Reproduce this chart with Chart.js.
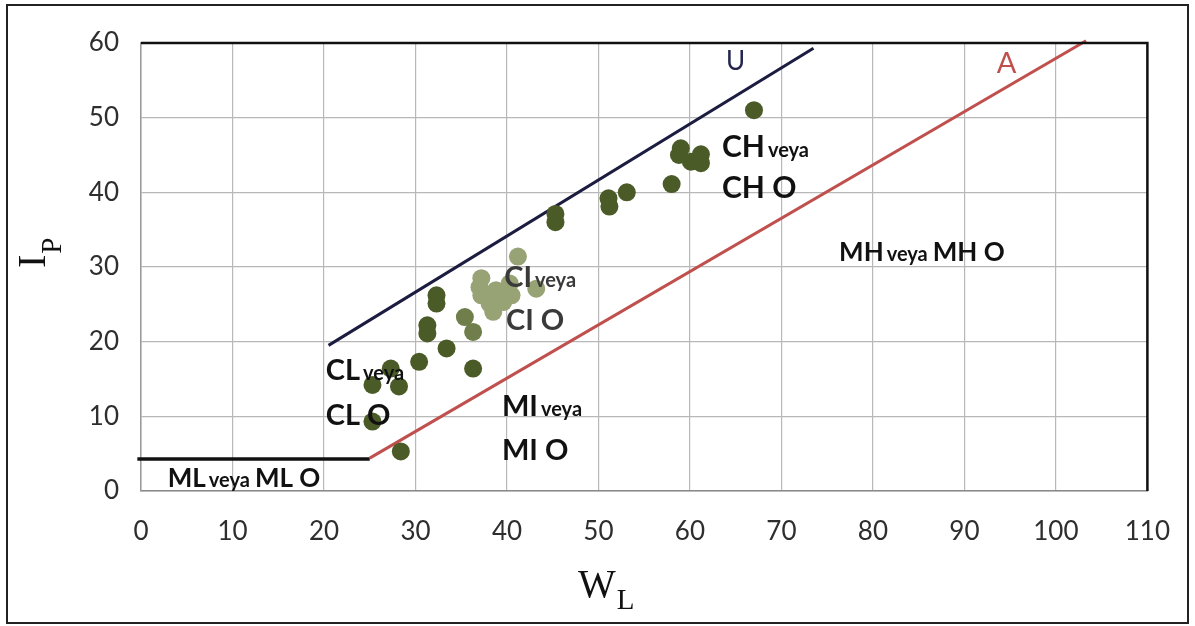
<!DOCTYPE html>
<html>
<head>
<meta charset="utf-8">
<script src="https://cdn.jsdelivr.net/npm/chart.js@4.4.1/dist/chart.umd.min.js"></script>
<style>
  html, body { margin: 0; padding: 0; background: #fff; }
  canvas { display: block; }
</style>
</head>
<body>
<canvas id="c" width="1195" height="626"></canvas>
<script>
// ---- data ----
const xTicks = [0, 10, 20, 30, 40, 50, 60, 70, 80, 90, 100, 110];
const yTicks = [0, 10, 20, 30, 40, 50, 60];

const darkX = [67, 59, 58.8, 60.1, 61.2, 61.2, 58, 53.1, 51.1, 51.2, 45.3, 45.3, 32.3, 32.3, 31.3, 31.3, 33.4, 30.4, 36.3, 27.3, 25.3, 28.2, 25.3, 28.4];
const darkY = [51, 45.9, 45, 44.1, 45.1, 43.9, 41.1, 40, 39.2, 38.1, 37.1, 36, 26.2, 25.1, 22.2, 21.1, 19.1, 17.3, 16.4, 16.4, 14.2, 14.0, 9.3, 5.3];

const midX = [35.4, 36.3];
const midY = [23.3, 21.3];

const lightX = [41.2, 37.2, 37, 37.2, 38.1, 38.5, 39.6, 40.5, 40.3, 43.2, 38.8];
const lightY = [31.4, 28.5, 27.3, 26.2, 25.1, 24, 25.3, 26.2, 27.8, 27.1, 26.9];

const uLineX = [20.5, 73.5];
const uLineY = [19.5, 59.3];
const aLineX = [25, 103.3];
const aLineY = [4.4, 60.3];
const mlLineX = [-0.4, 25];
const mlLineY = [4.3, 4.3];

function pts(xs, ys) { return xs.map((x, i) => ({ x: x, y: ys[i] })); }

// ---- annotation texts (data coordinates) ----
const zoneLabels = [
  { big: 'CH', small: 'veya', x: 63.5, y: 44.73, size: 30, color: '#111' },
  { big: 'CH O', small: '', x: 63.5, y: 39.24, size: 30, color: '#111' },
  { big: 'CI', small: 'veya', x: 39.7, y: 27.3, size: 29, color: '#3a3a3a' },
  { big: 'CI O', small: '', x: 39.9, y: 21.56, size: 29, color: '#3a3a3a' },
  { big: 'CL', small: 'veya', x: 20.2, y: 14.87, size: 29, color: '#111' },
  { big: 'CL O', small: '', x: 20.2, y: 8.84, size: 29, color: '#111' },
  { big: 'MI', small: 'veya', x: 39.45, y: 10.04, size: 29, color: '#111' },
  { big: 'MI O', small: '', x: 39.45, y: 4.15, size: 29, color: '#111' },
  { big: 'MH', small: 'veya', tail: 'MH O', x: 76.3, y: 30.8, size: 26, color: '#111' },
  { big: 'ML', small: 'veya', tail: 'ML O', x: 2.92, y: 0.54, size: 26, color: '#111' }
];

const decor = {
  id: 'decor',
  afterDatasetsDraw(chart) {
    const { ctx, chartArea: ca, scales } = chart;
    const sx = scales.x, sy = scales.y;
    ctx.save();
    // top and right plot border (black)
    ctx.strokeStyle = '#111';
    ctx.lineWidth = 2.5;
    ctx.beginPath();
    ctx.moveTo(ca.left, ca.top);
    ctx.lineTo(ca.right, ca.top);
    ctx.lineTo(ca.right, ca.bottom);
    ctx.stroke();

    // zone labels
    ctx.textBaseline = 'alphabetic';
    ctx.textAlign = 'left';
    zoneLabels.forEach(l => {
      let px = sx.getPixelForValue(l.x);
      const py = sy.getPixelForValue(l.y);
      ctx.fillStyle = l.color;
      ctx.font = 'bold ' + l.size + 'px Lato';
      ctx.fillText(l.big, px, py);
      px += ctx.measureText(l.big).width + 3;
      if (l.small) {
        ctx.font = 'bold 20px Lato';
        ctx.fillText(l.small, px, py);
        px += ctx.measureText(l.small).width + 5;
      }
      if (l.tail) {
        ctx.font = 'bold ' + l.size + 'px Lato';
        ctx.fillText(l.tail, px, py);
      }
    });

    // line names
    ctx.textAlign = 'center';
    ctx.font = '26px Lato';
    ctx.fillStyle = '#25254f';
    ctx.fillText('U', sx.getPixelForValue(65.0), sy.getPixelForValue(56.4));
    ctx.font = '29px Lato';
    ctx.fillStyle = '#c0504d';
    ctx.fillText('A', sx.getPixelForValue(94.6), sy.getPixelForValue(56.0));

    // axis titles (serif with subscripts)
    ctx.fillStyle = '#111';
    ctx.textAlign = 'left';
    ctx.font = '40px "Liberation Serif"';
    const wW = ctx.measureText('W').width;
    ctx.fillText('W', 578, 597);
    ctx.font = '29px "Liberation Serif"';
    ctx.fillText('L', 578 + wW + 1, 609);

    ctx.save();
    ctx.rotate(-Math.PI / 2);
    ctx.font = '40px "Liberation Serif"';
    const iW = ctx.measureText('I').width;
    ctx.fillText('I', -268, 45);
    ctx.font = '29px "Liberation Serif"';
    ctx.fillText('P', -268 + iW + 1, 61);
    ctx.restore();

    // outer frame
    ctx.strokeStyle = '#222';
    ctx.lineWidth = 2;
    ctx.strokeRect(7, 5, 1181, 618);
    ctx.restore();
  }
};

const tickFont = { family: 'Lato', size: 26 };

new Chart(document.getElementById('c'), {
  type: 'scatter',
  data: {
    datasets: [
      { data: pts(darkX, darkY), backgroundColor: '#4b5b28', borderWidth: 0, pointRadius: 9 },
      { data: pts(midX, midY), backgroundColor: '#6f7e4a', borderWidth: 0, pointRadius: 9 },
      { data: pts(lightX, lightY), backgroundColor: '#97a374', borderWidth: 0, pointRadius: 9 },
      { data: pts(uLineX, uLineY), showLine: true, borderColor: '#1c1c40', borderWidth: 3, pointRadius: 0, clip: false },
      { data: pts(aLineX, aLineY), showLine: true, borderColor: '#c0504d', borderWidth: 3, pointRadius: 0, clip: false },
      { data: pts(mlLineX, mlLineY), showLine: true, borderColor: '#111', borderWidth: 3.5, pointRadius: 0, clip: false }
    ]
  },
  options: {
    responsive: false,
    animation: false,
    events: [],
    layout: { padding: { left: 0, right: 37, top: 43, bottom: 0 } },
    plugins: { legend: { display: false }, tooltip: { enabled: false } },
    scales: {
      x: {
        type: 'linear', min: 0, max: 110,
        afterBuildTicks: s => { s.ticks = xTicks.map(v => ({ value: v })); },
        afterFit: s => { s.height = 135; },
        ticks: { font: tickFont, color: '#2e2e2e', padding: 25, maxRotation: 0, autoSkip: false },
        grid: { color: '#b8b8b8', lineWidth: 1.2, drawTicks: false },
        border: { color: '#8a8a8a', width: 1.5 }
      },
      y: {
        type: 'linear', min: 0, max: 60,
        afterBuildTicks: s => { s.ticks = yTicks.map(v => ({ value: v })); },
        afterFit: s => { s.width = 141; },
        ticks: { font: tickFont, color: '#2e2e2e', padding: 22, autoSkip: false },
        grid: { color: '#b8b8b8', lineWidth: 1.2, drawTicks: false },
        border: { color: '#9a9a9a', width: 1.5 }
      }
    }
  },
  plugins: [decor]
});
</script>
</body>
</html>
